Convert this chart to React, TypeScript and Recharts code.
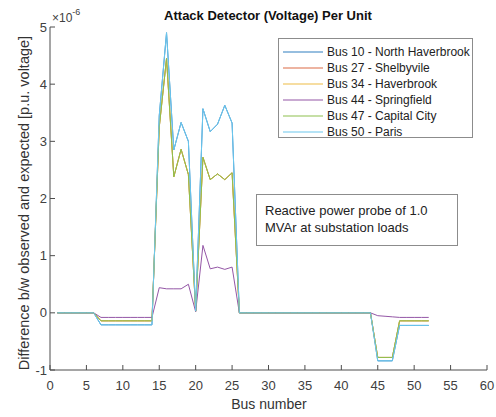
import React from 'react';
import { LineChart, Line, XAxis, YAxis } from 'recharts';

// bus numbers on the x axis
const buses = [
  1, 2, 3, 4, 5, 6, 7, 8, 9, 10, 11, 12, 13, 14, 15, 16, 17, 18, 19, 20, 21, 22, 23, 24, 25, 26,
  27, 28, 29, 30, 31, 32, 33, 34, 35, 36, 37, 38, 39, 40, 41, 42, 43, 44, 45, 46, 47, 48, 49, 50, 51, 52,
];

// values are in units of 1e-6 p.u.
const bus10 = [
  0, 0, 0, 0, 0, 0, -0.21, -0.21, -0.21, -0.21, -0.21, -0.21, -0.21, -0.21, 3.45, 4.9, 2.85, 3.33, 3.0, 0.03, 3.57, 3.17, 3.3, 3.63, 3.32, 0,
  0, 0, 0, 0, 0, 0, 0, 0, 0, 0, 0, 0, 0, 0, 0, 0, 0, 0, -0.84, -0.84, -0.84, -0.22, -0.22, -0.22, -0.22, -0.22,
];
const bus27 = [
  0, 0, 0, 0, 0, 0, -0.14, -0.14, -0.14, -0.14, -0.14, -0.14, -0.14, -0.14, 3.25, 4.45, 2.38, 2.86, 2.42, 0.03, 2.72, 2.33, 2.43, 2.33, 2.45, 0,
  0, 0, 0, 0, 0, 0, 0, 0, 0, 0, 0, 0, 0, 0, 0, 0, 0, 0, -0.78, -0.78, -0.78, -0.14, -0.14, -0.14, -0.14, -0.14,
];
const bus34 = [
  0, 0, 0, 0, 0, 0, -0.14, -0.14, -0.14, -0.14, -0.14, -0.14, -0.14, -0.14, 3.25, 4.45, 2.38, 2.86, 2.42, 0.03, 2.72, 2.33, 2.43, 2.33, 2.45, 0,
  0, 0, 0, 0, 0, 0, 0, 0, 0, 0, 0, 0, 0, 0, 0, 0, 0, 0, -0.78, -0.78, -0.78, -0.14, -0.14, -0.14, -0.14, -0.14,
];
const bus44 = [
  0, 0, 0, 0, 0, 0, -0.08, -0.08, -0.08, -0.08, -0.08, -0.08, -0.08, -0.08, 0.44, 0.42, 0.42, 0.42, 0.5, 0.02, 1.18, 0.77, 0.8, 0.76, 0.8, 0,
  0, 0, 0, 0, 0, 0, 0, 0, 0, 0, 0, 0, 0, 0, 0, 0, 0, 0, -0.05, -0.06, -0.07, -0.08, -0.08, -0.08, -0.08, -0.08,
];
const bus47 = [
  0, 0, 0, 0, 0, 0, -0.14, -0.14, -0.14, -0.14, -0.14, -0.14, -0.14, -0.14, 3.25, 4.45, 2.38, 2.86, 2.42, 0.03, 2.72, 2.33, 2.43, 2.33, 2.45, 0,
  0, 0, 0, 0, 0, 0, 0, 0, 0, 0, 0, 0, 0, 0, 0, 0, 0, 0, -0.78, -0.78, -0.78, -0.14, -0.14, -0.14, -0.14, -0.14,
];
const bus50 = [
  0, 0, 0, 0, 0, 0, -0.21, -0.21, -0.21, -0.21, -0.21, -0.21, -0.21, -0.21, 3.45, 4.9, 2.85, 3.33, 3.0, 0.03, 3.57, 3.17, 3.3, 3.63, 3.32, 0,
  0, 0, 0, 0, 0, 0, 0, 0, 0, 0, 0, 0, 0, 0, 0, 0, 0, 0, -0.84, -0.84, -0.84, -0.22, -0.22, -0.22, -0.22, -0.22,
];

const xTicks = [0, 5, 10, 15, 20, 25, 30, 35, 40, 45, 50, 55, 60];
const yTicks = [-1, 0, 1, 2, 3, 4, 5];

const series = [
  { key: 'b10', name: 'Bus 10 - North Haverbrook', values: bus10, color: '#2f7fc0' },
  { key: 'b27', name: 'Bus 27 - Shelbyvile', values: bus27, color: '#dc6a45' },
  { key: 'b34', name: 'Bus 34 - Haverbrook', values: bus34, color: '#eebb44' },
  { key: 'b44', name: 'Bus 44 - Springfield', values: bus44, color: '#9456a6' },
  { key: 'b47', name: 'Bus 47 - Capital City', values: bus47, color: '#8dbf4f' },
  { key: 'b50', name: 'Bus 50 - Paris', values: bus50, color: '#6cc8ee' },
];

const data = buses.map((bus, i) => {
  const row: Record<string, number> = { bus };
  series.forEach(s => { row[s.key] = s.values[i]; });
  return row;
});

const font = '"Liberation Sans", Arial, Helvetica, sans-serif';
const axisColor = '#4d4d4d';
const tickStyle = { fontSize: 13, fill: '#404040', fontFamily: font };

export default function App() {
  return (
    <div style={{ position: 'absolute', left: 0, top: 0, width: 496, height: 417, background: '#fff', fontFamily: font }}>
      <LineChart width={496} height={417} data={data} margin={{ top: 27, right: 9, bottom: 17, left: 10 }}>
        <XAxis
          dataKey="bus"
          type="number"
          domain={[0, 60]}
          ticks={xTicks}
          height={30}
          tickSize={-5}
          tickMargin={16}
          stroke={axisColor}
          tick={tickStyle}
          interval={0}
        />
        <YAxis
          type="number"
          domain={[-1, 5]}
          ticks={yTicks}
          width={40}
          tickSize={-5}
          tickMargin={8}
          stroke={axisColor}
          tick={tickStyle}
          interval={0}
        />
        {series.map(s => (
          <Line
            key={s.key}
            dataKey={s.key}
            name={s.name}
            stroke={s.color}
            strokeWidth={1}
            dot={false}
            activeDot={false}
            isAnimationActive={false}
            type="linear"
          />
        ))}
      </LineChart>

      {/* title */}
      <div style={{ position: 'absolute', left: 0, width: 536, top: 8, textAlign: 'center', fontSize: 13, fontWeight: 'bold', color: '#111' }}>
        Attack Detector (Voltage) Per Unit
      </div>

      {/* exponent */}
      <div style={{ position: 'absolute', left: 52, top: 9, fontSize: 12, color: '#404040' }}>
        ×10<sup style={{ fontSize: 9, position: 'relative', top: -2 }}>-6</sup>
      </div>

      {/* axis labels */}
      <div style={{ position: 'absolute', left: 0, width: 538, top: 396, textAlign: 'center', fontSize: 14, color: '#333' }}>
        Bus number
      </div>
      <div style={{
        position: 'absolute', left: 24, top: 203, width: 400, marginLeft: -200, marginTop: -8, textAlign: 'center',
        fontSize: 14.5, color: '#333', transform: 'rotate(-90deg)', whiteSpace: 'nowrap',
      }}>
        Difference b/w observed and expected [p.u. voltage]
      </div>

      {/* legend */}
      <div style={{
        position: 'absolute', left: 278, top: 38, width: 195, height: 100, border: '1px solid #8c8c8c', background: '#fff',
        boxSizing: 'border-box', paddingTop: 5,
      }}>
        {series.map(s => (
          <div key={s.key} style={{ display: 'flex', alignItems: 'center', height: 16, fontSize: 12, color: '#222' }}>
            <svg width={48} height={16} style={{ flex: 'none' }}>
              <line x1={4} x2={44} y1={8} y2={8} stroke={s.color} strokeWidth={1.2} />
            </svg>
            <span>{s.name}</span>
          </div>
        ))}
      </div>

      {/* annotation */}
      <div style={{
        position: 'absolute', left: 256, top: 194, width: 202, height: 52, border: '1px solid #8c8c8c', background: '#fff',
        boxSizing: 'border-box', padding: '7px 0 0 8px', fontSize: 13, lineHeight: '17px', color: '#222', whiteSpace: 'nowrap',
      }}>
        Reactive power probe of 1.0<br />MVAr at substation loads
      </div>
    </div>
  );
}
